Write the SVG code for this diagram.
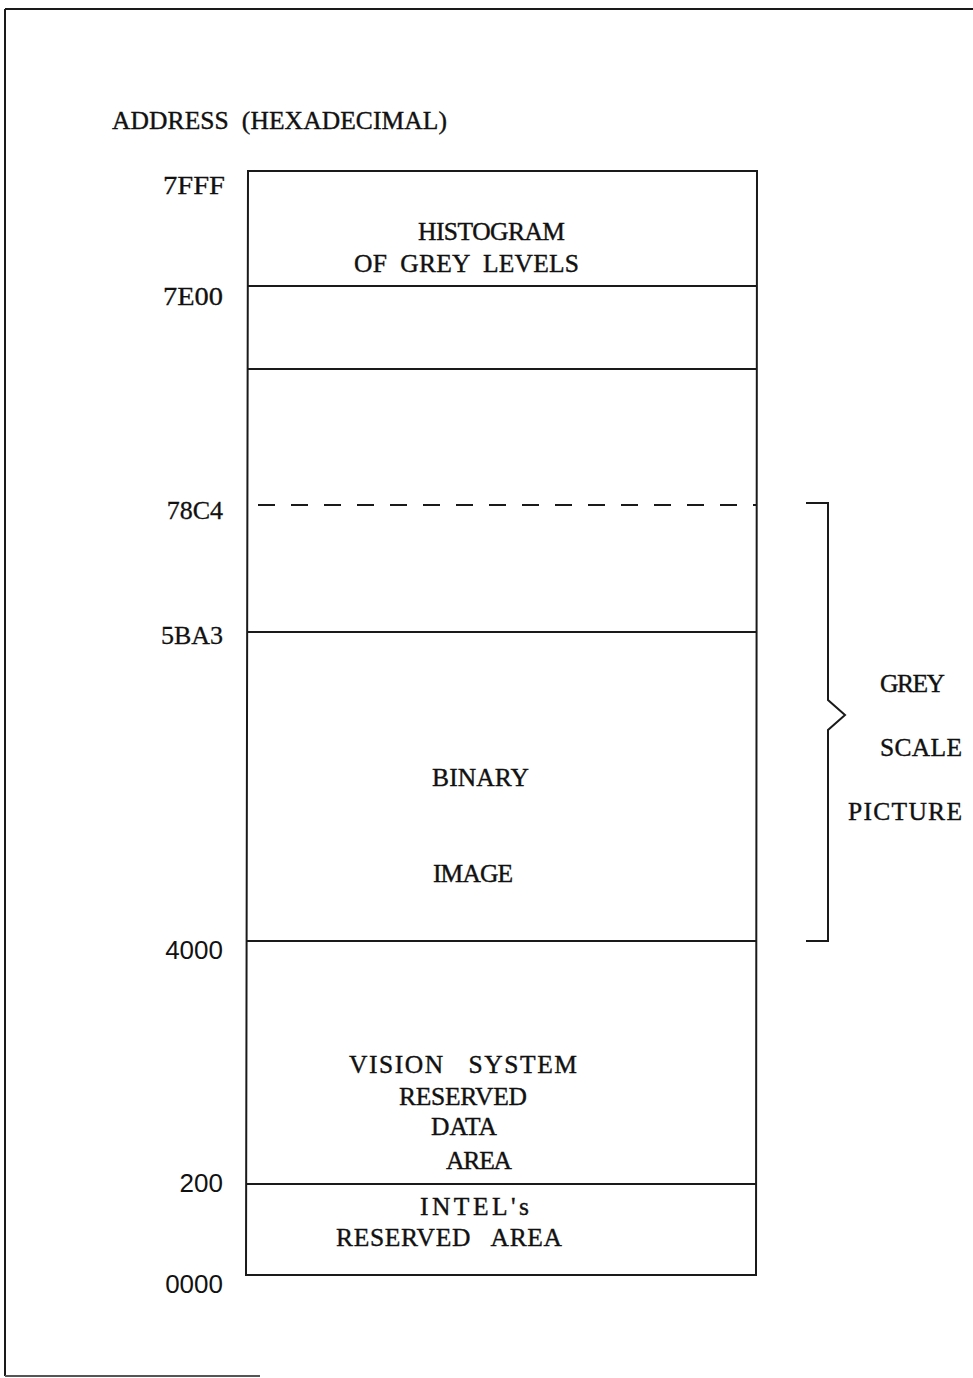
<svg xmlns="http://www.w3.org/2000/svg" width="973" height="1378" viewBox="0 0 973 1378">
<style>
.tw{font-family:"Liberation Serif","DejaVu Serif",serif;font-size:25.5px;fill:#111;stroke:#111;stroke-width:0.4}
.ser{font-family:"Liberation Serif","DejaVu Serif",serif;font-size:26px;fill:#111;stroke:#111;stroke-width:0.3}
.sans{font-family:"Liberation Sans","DejaVu Sans",sans-serif;font-size:26px;fill:#111}
.ln{stroke:#1a1a1a;stroke-width:2;fill:none}
</style>
<rect width="973" height="1378" fill="#fff"/>
<g id="frame">
<line class="ln" x1="5" y1="9" x2="973" y2="9" stroke-width="2.5"/>
<line class="ln" x1="5" y1="9" x2="5" y2="1376" stroke-width="2.5"/>
<line x1="5" y1="1376" x2="260" y2="1376" stroke="#555" stroke-width="2"/>
</g>
<g id="title">
<text class="tw" x="112" y="129" textLength="335" lengthAdjust="spacing" xml:space="preserve">ADDRESS  (HEXADECIMAL)</text>
</g>
<g id="addresses">
<text class="ser" x="163" y="194" textLength="62" lengthAdjust="spacingAndGlyphs">7FFF</text>
<text class="ser" x="163" y="305" textLength="60" lengthAdjust="spacingAndGlyphs">7E00</text>
<text class="ser" x="223" y="519" text-anchor="end">78C4</text>
<text class="ser" x="223" y="644" text-anchor="end">5BA3</text>
<text class="sans" x="223" y="959" text-anchor="end">4000</text>
<text class="sans" x="223" y="1192" text-anchor="end">200</text>
<text class="sans" x="223" y="1293" text-anchor="end">0000</text>
</g>
<g id="memory-box">
<path class="ln" d="M248 171 L757 171 L756 1275 L246 1275 Z"/>
</g>
<g id="connectors">
<line class="ln" x1="248" y1="286" x2="757" y2="286"/>
<line class="ln" x1="248" y1="369" x2="757" y2="369"/>
<line class="ln" x1="258" y1="505" x2="757" y2="505" stroke-dasharray="17 16"/>
<line class="ln" x1="248" y1="632" x2="757" y2="632"/>
<line class="ln" x1="247" y1="941" x2="757" y2="941"/>
<line class="ln" x1="246" y1="1184" x2="756" y2="1184"/>
</g>
<g id="histogram">
<text class="tw" x="418" y="240" textLength="147" lengthAdjust="spacing">HISTOGRAM</text>
<text class="tw" x="354" y="272" textLength="225" lengthAdjust="spacing" xml:space="preserve">OF  GREY  LEVELS</text>
</g>
<g id="binary-image">
<text class="tw" x="432" y="786" textLength="97" lengthAdjust="spacing">BINARY</text>
<text class="tw" x="433" y="882" textLength="80" lengthAdjust="spacing">IMAGE</text>
</g>
<g id="vision-system">
<text class="tw" x="349" y="1073" textLength="228" lengthAdjust="spacing" xml:space="preserve">VISION   SYSTEM</text>
<text class="tw" x="399" y="1105" textLength="128" lengthAdjust="spacing">RESERVED</text>
<text class="tw" x="431" y="1135" textLength="66" lengthAdjust="spacing">DATA</text>
<text class="tw" x="446" y="1169" textLength="66" lengthAdjust="spacing">AREA</text>
</g>
<g id="intel">
<text class="tw" x="420" y="1215" textLength="109" lengthAdjust="spacing">INTEL's</text>
<text class="tw" x="336" y="1246" textLength="226" lengthAdjust="spacing" xml:space="preserve">RESERVED   AREA</text>
</g>
<g id="grey-scale-brace">
<path class="ln" d="M806 503 L828 503 L828 700 L845 715 L828 730 L828 941 L806 941"/>
<text class="tw" x="880" y="692" textLength="65" lengthAdjust="spacing">GREY</text>
<text class="tw" x="880" y="756" textLength="82" lengthAdjust="spacing">SCALE</text>
<text class="tw" x="848" y="820" textLength="114" lengthAdjust="spacing">PICTURE</text>
</g>
</svg>
